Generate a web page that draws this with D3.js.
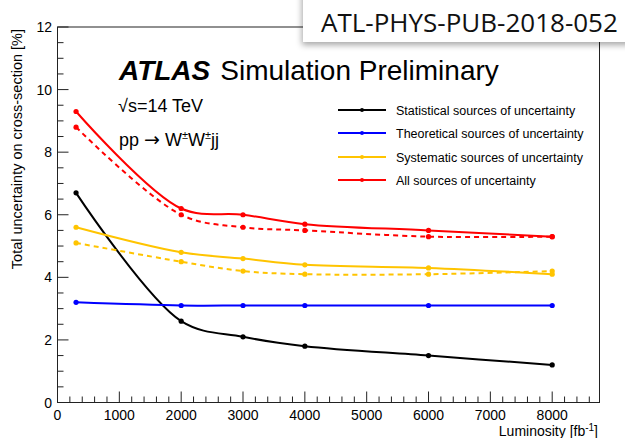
<!DOCTYPE html>
<html><head><meta charset="utf-8">
<script src="https://cdn.jsdelivr.net/npm/d3@7"></script>
<style>
html,body{margin:0;padding:0;background:#fff;}
svg{display:block;font-family:"Liberation Sans",Arial,Helvetica,sans-serif;}
</style></head>
<body><svg id="c" width="625" height="438"></svg>
<script>
const lumi = [300, 2000, 3000, 4000, 6000, 8000];
const statSolid = [6.7, 2.6, 2.1, 1.8, 1.5, 1.2];
const theoSolid = [3.2, 3.1, 3.1, 3.1, 3.1, 3.1];
const systSolid = [5.6, 4.8, 4.6, 4.4, 4.3, 4.1];
const systDashed = [5.1, 4.5, 4.2, 4.1, 4.1, 4.2];
const allSolid = [9.3, 6.2, 6.0, 5.7, 5.5, 5.3];
const allDashed = [8.8, 6.0, 5.6, 5.5, 5.3, 5.3];
const legendLabels = ["Statistical sources of uncertainty","Theoretical sources of uncertainty","Systematic sources of uncertainty","All sources of uncertainty"];
const xTicks = [0,1000,2000,3000,4000,5000,6000,7000,8000];
const yTicks = [0,2,4,6,8,10,12];

const series = [
  {v: statSolid, color: "#000000", dash: null},
  {v: theoSolid, color: "#0000ff", dash: null},
  {v: systDashed, color: "#ffc400", dash: "5,4"},
  {v: systSolid, color: "#ffc400", dash: null},
  {v: allDashed, color: "#ff0000", dash: "5,4"},
  {v: allSolid, color: "#ff0000", dash: null}
];
const legendColors = ["#000000","#0000ff","#ffc400","#ff0000"];

const svg = d3.select("#c");
const L = 57.5, R = 599.5, T = 27, B = 402.5;
const x = d3.scaleLinear().domain([0, 8765]).range([L, R]);
const y = d3.scaleLinear().domain([0, 12]).range([B, T]);

const defs = svg.append("defs");
const f = defs.append("filter").attr("id","sh").attr("x","-20%").attr("y","-50%").attr("width","140%").attr("height","220%");
f.append("feDropShadow").attr("dx",-1).attr("dy",3).attr("stdDeviation",3).attr("flood-color","#000").attr("flood-opacity",0.35);

// frame
svg.append("rect").attr("x",L).attr("y",T).attr("width",R-L).attr("height",B-T)
  .attr("fill","none").attr("stroke","#222").attr("stroke-width",1);

// x ticks
const xMinor = d3.range(0, 8761, 200);
svg.append("g").selectAll("line").data(xMinor).join("line")
  .attr("x1",d=>x(d)).attr("x2",d=>x(d)).attr("y1",B).attr("y2",d=> d%1000===0 ? B-11 : B-6)
  .attr("stroke","#222").attr("stroke-width",1);
svg.append("g").selectAll("text").data(xTicks).join("text")
  .attr("x",d=>x(d)).attr("y",420).attr("text-anchor","middle")
  .attr("font-size",14).text(d=>d);

// y ticks
const yMinor = d3.range(0, 12.01, 0.5);
svg.append("g").selectAll("line").data(yMinor).join("line")
  .attr("x1",L).attr("x2",d=> Math.abs(d%2)<1e-9 ? L+11 : L+6).attr("y1",d=>y(d)).attr("y2",d=>y(d))
  .attr("stroke","#222").attr("stroke-width",1);
svg.append("g").selectAll("text").data(yTicks).join("text")
  .attr("x",52).attr("y",d=>y(d)+5).attr("text-anchor","end")
  .attr("font-size",14).text(d=>d);

// axis titles
svg.append("text").attr("transform",`translate(22,29) rotate(-90)`).attr("text-anchor","end")
  .attr("font-size",14.5).text("Total uncertainty on cross-section [%]");
const xt = svg.append("text").attr("x",598).attr("y",436).attr("text-anchor","end").attr("font-size",14);
xt.append("tspan").text("Luminosity [fb");
xt.append("tspan").attr("dy",-5).attr("font-size",10).text("-1");
xt.append("tspan").attr("dy",5).text("]");

// lines
const line = d3.line().x((d,i)=>x(lumi[i])).y(d=>y(d)).curve(d3.curveCatmullRom.alpha(0.5));
series.forEach(s=>{
  svg.append("path").attr("d", line(s.v)).attr("fill","none").attr("stroke",s.color)
    .attr("stroke-width",2).attr("stroke-dasharray",s.dash);
  svg.append("g").selectAll("circle").data(s.v).join("circle")
    .attr("cx",(d,i)=>x(lumi[i])).attr("cy",d=>y(d)).attr("r",2.6).attr("fill",s.color);
});

// ATLAS label
const at = svg.append("text").attr("x",119).attr("y",80).attr("font-size",28);
at.append("tspan").attr("font-weight","bold").attr("font-style","italic").text("ATLAS");
at.append("tspan").attr("dx",10).text("Simulation Preliminary");
svg.append("text").attr("x",118).attr("y",112).attr("font-size",18).text("\u221As=14 TeV");
const pp = svg.append("text").attr("x",119).attr("y",146).attr("font-size",18);
pp.append("tspan").text("pp ");
pp.append("tspan").style("font-family","'DejaVu Sans'").attr("font-size",19).text("\u2192");
pp.append("tspan").text(" W");
pp.append("tspan").attr("dy",-7).attr("font-size",11).text("\u00B1");
pp.append("tspan").attr("dy",7).text("W");
pp.append("tspan").attr("dy",-7).attr("font-size",11).text("\u00B1");
pp.append("tspan").attr("dy",7).text("jj");

// legend
const ly = [110, 133, 157, 180];
legendLabels.forEach((t,i)=>{
  svg.append("line").attr("x1",338).attr("x2",386).attr("y1",ly[i]).attr("y2",ly[i])
    .attr("stroke",legendColors[i]).attr("stroke-width",2);
  svg.append("circle").attr("cx",362).attr("cy",ly[i]).attr("r",2).attr("fill",legendColors[i]);
  svg.append("text").attr("x",396).attr("y",ly[i]+4.5).attr("font-size",12.5).text(t);
});

// report number box
svg.append("rect").attr("x",303).attr("y",-10).attr("width",340).attr("height",52)
  .attr("fill","#fff").attr("filter","url(#sh)");
svg.append("text").attr("x",321).attr("y",32).attr("font-size",26)
  .style("font-family","'Open Sans',Lato,sans-serif")
  .attr("fill","#111").text("ATL-PHYS-PUB-2018-052");
</script>
</body></html>
